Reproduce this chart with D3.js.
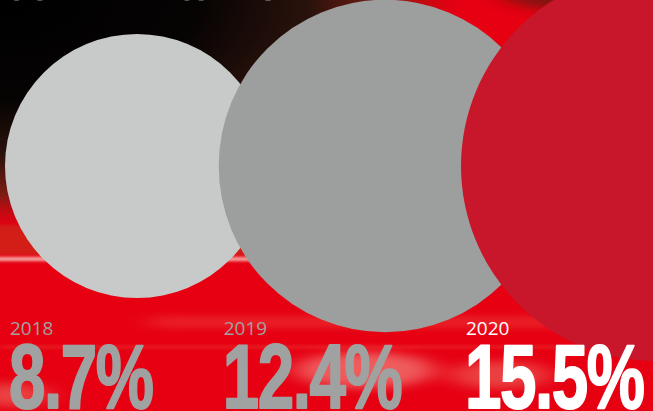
<!DOCTYPE html>
<html><head><meta charset="utf-8">
<script src="https://cdn.jsdelivr.net/npm/d3@7"></script>
<style>html,body{margin:0;padding:0;background:#e60012;overflow:hidden}</style>
</head><body>
<script>
const title = "营业收入增长率";
const years = ["2018", "2019", "2020"];
const values = [8.7, 12.4, 15.5];
const valueLabels = ["8.7%", "12.4%", "15.5%"];

const W = 653, H = 411;
const svg = d3.select("body").append("svg").attr("width", W).attr("height", H);
const defs = svg.append("defs");

// background: dark corner at top-left
const rg = defs.append("radialGradient").attr("id", "dark")
  .attr("gradientUnits", "userSpaceOnUse")
  .attr("cx", 0).attr("cy", 0).attr("r", 470)
  .attr("gradientTransform", "scale(1,0.5)");
rg.append("stop").attr("offset", 0).attr("stop-color", "#000").attr("stop-opacity", 1);
rg.append("stop").attr("offset", 0.42).attr("stop-color", "#060303").attr("stop-opacity", 1);
rg.append("stop").attr("offset", 0.66).attr("stop-color", "#2a120c").attr("stop-opacity", 1);
rg.append("stop").attr("offset", 0.83).attr("stop-color", "#6a2212").attr("stop-opacity", 0.85);
rg.append("stop").attr("offset", 1).attr("stop-color", "#e60012").attr("stop-opacity", 0);

const blur = defs.append("filter").attr("id", "blur").attr("x", -0.5).attr("y", -2).attr("width", 2).attr("height", 5);
blur.append("feGaussianBlur").attr("stdDeviation", "6 1.5");
const blur2 = defs.append("filter").attr("id", "blur2").attr("x", -0.5).attr("y", -2).attr("width", 2).attr("height", 5);
blur2.append("feGaussianBlur").attr("stdDeviation", "14 5");

svg.append("rect").attr("width", W).attr("height", H).attr("fill", "#e60012");
svg.append("rect").attr("width", W).attr("height", H).attr("fill", "url(#dark)");
svg.append("ellipse").attr("cx", 560).attr("cy", -10).attr("rx", 60).attr("ry", 20)
  .attr("fill", "#5a1a0c").attr("opacity", 0.7).attr("filter", "url(#blur2)");

// streaks
const streaks = svg.append("g");
streaks.append("rect").attr("x", -20).attr("y", 225).attr("width", 300).attr("height", 30)
  .attr("fill", "#c8301c").attr("opacity", 0.6).attr("filter", "url(#blur)");
streaks.append("rect").attr("x", -20).attr("y", 257).attr("width", 300).attr("height", 4)
  .attr("fill", "#f8c0b8").attr("opacity", 0.9).attr("filter", "url(#blur)");
streaks.append("rect").attr("x", 150).attr("y", 318).attr("width", 520).attr("height", 8)
  .attr("fill", "#f36a5a").attr("opacity", 0.45).attr("filter", "url(#blur2)");
streaks.append("ellipse").attr("cx", 365).attr("cy", 370).attr("rx", 70).attr("ry", 18)
  .attr("fill", "#f59a90").attr("opacity", 0.6).attr("filter", "url(#blur2)");
streaks.append("ellipse").attr("cx", 500).attr("cy", 375).attr("rx", 50).attr("ry", 14)
  .attr("fill", "#f08070").attr("opacity", 0.5).attr("filter", "url(#blur2)");
streaks.append("ellipse").attr("cx", 10).attr("cy", 395).attr("rx", 40).attr("ry", 12)
  .attr("fill", "#f08070").attr("opacity", 0.5).attr("filter", "url(#blur2)");
streaks.append("rect").attr("x", 0).attr("y", 345).attr("width", 653).attr("height", 4)
  .attr("fill", "#f05040").attr("opacity", 0.3).attr("filter", "url(#blur)");

// title (mostly cut off at the top edge)
svg.append("text").attr("x", 8).attr("y", -4)
  .attr("font-family", "'Noto Sans CJK SC'").attr("font-weight", 700)
  .attr("font-size", 40).attr("fill", "#fff").text(title);

// scales
const cx = d3.scaleOrdinal().domain(years).range([137, 385, 656]);
const r = d3.scaleLinear().domain([d3.min(values), d3.max(values)]).range([132, 195]);
const color = d3.scaleOrdinal().domain(years).range(["#c8cac9", "#9d9f9e", "#c8172a"]);
const labelColor = d3.scaleOrdinal().domain(years).range(["#a0a2a1", "#a0a2a1", "#ffffff"]);
const cy = 166;

const data = years.map((y, i) => ({ year: y, value: values[i], label: valueLabels[i] }));

svg.append("g").selectAll("circle").data(data).join("circle")
  .attr("cx", d => cx(d.year)).attr("cy", cy).attr("r", d => r(d.value))
  .attr("fill", d => color(d.year));

const lx = d => cx(d.year) - r(d.value) + 5;

svg.append("g").selectAll("text").data(data).join("text")
  .attr("x", lx).attr("y", 335)
  .attr("font-family", "'Open Sans'").attr("font-weight", 400).attr("font-size", 19)
  .attr("fill", d => labelColor(d.year)).text(d => d.year);

svg.append("g").selectAll("text").data(data).join("text")
  .attr("transform", d => `translate(${lx(d) - 1},408) scale(0.72,1)`)
  .attr("font-family", "'Liberation Sans'").attr("font-weight", 700).attr("font-size", 91)
  .attr("letter-spacing", -2)
  .attr("stroke", d => labelColor(d.year)).attr("stroke-width", 2).attr("stroke-linejoin", "round")
  .attr("fill", d => labelColor(d.year)).text(d => d.label);
</script>
</body></html>
